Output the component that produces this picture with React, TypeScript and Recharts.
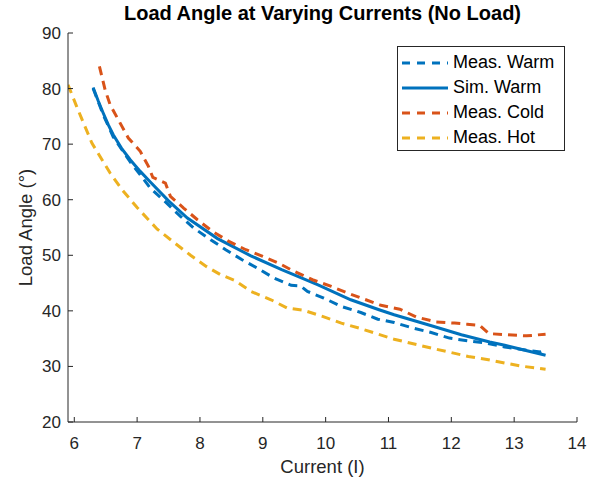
import React from 'react';
import { LineChart, Line, XAxis, YAxis, Label } from 'recharts';

const measWarmCurrent = [6.3, 6.46, 6.62, 6.89, 7.05, 7.21, 7.45, 7.69, 7.9, 8.17, 8.41, 8.67, 8.91, 9.18, 9.45, 9.6, 9.71, 9.97, 10.25, 10.56, 10.83, 11.09, 11.39, 11.68, 11.97, 12.27, 12.56, 12.85, 13.15, 13.42, 13.5];
const measWarmAngle = [80.0, 75.3, 71.3, 66.8, 64.5, 62.1, 59.6, 57.0, 54.9, 52.8, 51.0, 49.2, 47.7, 45.9, 44.6, 44.5, 43.5, 42.3, 40.8, 39.7, 38.5, 37.9, 36.9, 36.1, 35.1, 34.6, 34.2, 33.5, 33.0, 32.6, 32.9];

const simWarmCurrent = [6.3, 6.38, 6.46, 6.54, 6.62, 6.75, 6.89, 7.05, 7.21, 7.5, 7.8, 8.28, 8.81, 9.3, 9.87, 10.4, 10.85, 11.09, 11.63, 12.16, 12.61, 12.85, 13.5];
const simWarmAngle = [80.2, 77.8, 75.6, 73.5, 71.7, 69.3, 67.2, 65.1, 63.2, 59.8, 56.7, 53.0, 49.9, 47.4, 44.7, 42.0, 40.2, 39.3, 37.5, 35.7, 34.4, 33.8, 32.0];

const measColdCurrent = [6.4, 6.49, 6.57, 6.7, 6.86, 7.05, 7.18, 7.25, 7.45, 7.53, 7.74, 7.96, 8.2, 8.46, 8.73, 9.0, 9.25, 9.5, 9.79, 10.09, 10.35, 10.64, 10.88, 11.18, 11.44, 11.76, 12.05, 12.25, 12.45, 12.6, 12.9, 13.2, 13.5];
const measColdAngle = [84.0, 79.8, 77.1, 74.4, 71.1, 68.7, 66.0, 64.0, 63.0, 60.6, 58.5, 56.4, 54.3, 52.5, 51.0, 49.8, 48.6, 47.1, 45.6, 44.4, 43.2, 42.0, 41.0, 40.3, 38.9, 38.0, 37.8, 37.6, 37.4, 35.9, 35.7, 35.5, 35.8];

const measHotCurrent = [5.9, 6.04, 6.28, 6.57, 6.76, 7.0, 7.32, 7.6, 7.85, 8.1, 8.33, 8.55, 8.81, 9.13, 9.39, 9.65, 9.95, 10.25, 10.56, 11.09, 11.68, 12.27, 12.59, 12.85, 13.15, 13.5];
const measHotAngle = [80.7, 76.7, 70.2, 64.8, 61.8, 58.6, 54.7, 52.2, 50.0, 48.0, 46.5, 45.5, 43.5, 42.0, 40.5, 40.1, 39.0, 37.8, 36.8, 34.9, 33.3, 31.8, 31.2, 30.6, 30.0, 29.5];

const xTicks = [6, 7, 8, 9, 10, 11, 12, 13, 14];
const yTicks = [20, 30, 40, 50, 60, 70, 80, 90];

const seriesNames = ['Meas. Warm', 'Sim. Warm', 'Meas. Cold', 'Meas. Hot'];
const seriesColors = ['#0072BD', '#0072BD', '#D95319', '#EDB120'];
const seriesDashed = [true, false, true, true];

const zip = (xs: number[], ys: number[]) => xs.map((x, i) => ({ current: x, angle: ys[i] }));

const seriesData = [
  zip(measWarmCurrent, measWarmAngle),
  zip(simWarmCurrent, simWarmAngle),
  zip(measColdCurrent, measColdAngle),
  zip(measHotCurrent, measHotAngle),
];

const FONT = '"Liberation Sans", Arial, Helvetica, sans-serif';
const AXIS = '#262626';
const LABEL_SIZE = 18.5;

const YLabel = (props: any) => {
  const vb = props.viewBox || { x: 0, y: 33, width: 68, height: 389 };
  const cx = vb.x + 25;
  const cy = vb.y + vb.height / 2;
  return (
    <text
      x={cx}
      y={cy}
      transform={`rotate(-90, ${cx}, ${cy})`}
      textAnchor="middle"
      dominantBaseline="central"
      fill={AXIS}
      fontSize={LABEL_SIZE}
      fontFamily={FONT}
    >
      Load Angle (°)
    </text>
  );
};

export default function App() {
  return (
    <div style={{ position: 'absolute', left: 0, top: 0, width: 601, height: 484, background: '#fff', fontFamily: FONT }}>
      <div
        style={{
          position: 'absolute',
          top: 2,
          left: 68,
          width: 509,
          textAlign: 'center',
          fontWeight: 'bold',
          fontSize: 20,
          color: '#000',
          whiteSpace: 'nowrap',
        }}
      >
        Load Angle at Varying Currents (No Load)
      </div>
      <LineChart width={601} height={484} margin={{ top: 33, right: 24, bottom: 0, left: 0 }}>
        <XAxis
          type="number"
          dataKey="current"
          domain={[5.9, 14]}
          ticks={xTicks}
          interval={0}
          allowDataOverflow
          height={62}
          axisLine={{ stroke: AXIS, strokeWidth: 1 }}
          tickLine={{ stroke: AXIS, strokeWidth: 1 }}
          tickSize={-5}
          tickMargin={20}
          tick={{ fill: AXIS, fontSize: 17, fontFamily: FONT }}
        >
          <Label value="Current (I)" position="insideBottom" offset={11} fill={AXIS} fontSize={LABEL_SIZE} fontFamily={FONT} />
        </XAxis>
        <YAxis
          type="number"
          dataKey="angle"
          domain={[20, 90]}
          ticks={yTicks}
          interval={0}
          allowDataOverflow
          width={68}
          axisLine={{ stroke: AXIS, strokeWidth: 1 }}
          tickLine={{ stroke: AXIS, strokeWidth: 1 }}
          tickSize={-5}
          tickMargin={12}
          tick={{ fill: AXIS, fontSize: 17, fontFamily: FONT }}
        >
          <Label content={<YLabel />} />
        </YAxis>
        {seriesData.map((d, i) => (
          <Line
            key={seriesNames[i]}
            data={d}
            dataKey="angle"
            name={seriesNames[i]}
            type="linear"
            stroke={seriesColors[i]}
            strokeWidth={3}
            strokeDasharray={seriesDashed[i] ? '9 6' : undefined}
            dot={false}
            activeDot={false}
            isAnimationActive={false}
          />
        ))}
      </LineChart>
      <div
        style={{
          position: 'absolute',
          left: 397,
          top: 46,
          width: 168,
          height: 105,
          border: `1px solid ${AXIS}`,
          background: '#fff',
          boxSizing: 'border-box',
          paddingTop: 3,
        }}
      >
        {seriesNames.map((n, i) => (
          <div key={n} style={{ height: 25, display: 'flex', alignItems: 'center' }}>
            <svg width={46} height={6} style={{ marginLeft: 4, marginRight: 5 }}>
              <line
                x1={0}
                y1={3}
                x2={46}
                y2={3}
                stroke={seriesColors[i]}
                strokeWidth={3}
                strokeDasharray={seriesDashed[i] ? '8 7' : undefined}
              />
            </svg>
            <span style={{ fontSize: 18, color: '#000' }}>{n}</span>
          </div>
        ))}
      </div>
    </div>
  );
}
